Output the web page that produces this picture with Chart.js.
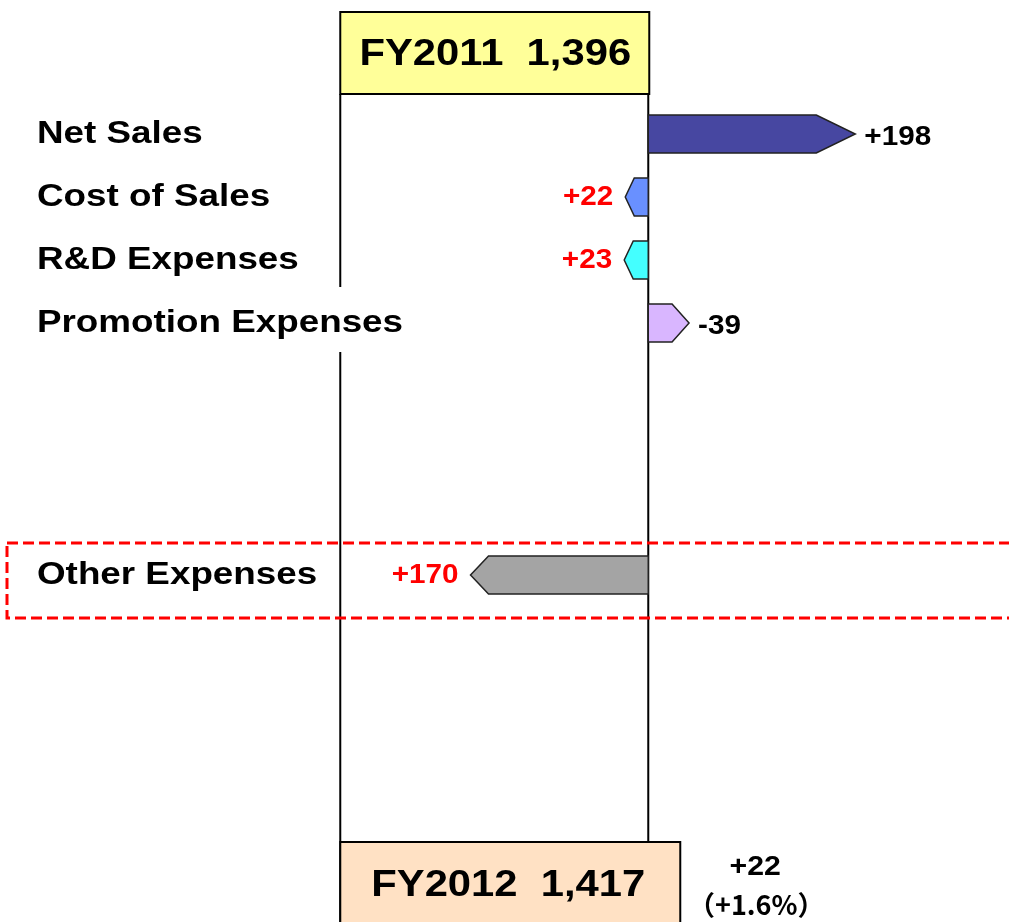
<!DOCTYPE html>
<html>
<head>
<meta charset="utf-8">
<title>Operating income FY2011 to FY2012</title>
<script src="https://cdn.jsdelivr.net/npm/chart.js"></script>
<style>
  html, body { margin: 0; padding: 0; background: #fff; }
  #wrap { width: 1009px; height: 922px; position: relative; }
</style>
</head>
<body>
<div id="wrap"><canvas id="bridge-chart"></canvas></div>
<script>
// rows (the blank ones keep the gap above Other Expenses)
let rowLabels = ['Net Sales', 'Cost of Sales', 'R&D Expenses', 'Promotion Expenses', '', '', '', 'Other Expenses'];
// effect on income: + goes right, - goes left
let impact = [198, -22, -23, 39, null, null, null, -170];
// text printed next to each arrow
let impactText = ['+198', '+22', '+23', '-39', '', '', '', '+170'];

let startText = 'FY2011  1,396';
let endText = 'FY2012  1,417';
let changeText = ['+22', '（+1.6%）'];

const arrowColors = ['#4747A1', '#6990FF', '#44FFFF', '#D9B6FF', null, null, null, '#A4A4A4'];
const arrowHeads = [39, 9, 9, 17, 0, 0, 0, 18];
const FONT = '"Liberation Sans", Arial, sans-serif';
const CJK_FONT = '"Noto Sans CJK JP", "Liberation Sans", sans-serif';

// text in the original is a bit wider than Arial, so stretch it
function wideText(ctx, text, x, y, sx) {
  ctx.save();
  ctx.translate(x, y);
  ctx.scale(sx, 1);
  ctx.fillText(text, 0, 0);
  ctx.restore();
}

const bridgeDraw = {
  id: 'bridgeDraw',
  beforeDatasetsDraw(chart) {
    const ctx = chart.ctx;
    const x0 = chart.scales.x.getPixelForValue(0);
    const colLeft = x0 - 308;
    ctx.save();
    ctx.strokeStyle = '#000';
    ctx.lineWidth = 2;
    ctx.beginPath();
    ctx.moveTo(colLeft, 94); ctx.lineTo(colLeft, 922);
    ctx.moveTo(x0, 94); ctx.lineTo(x0, 842);
    ctx.stroke();

    // FY2011 box
    ctx.fillStyle = '#FFFF99';
    ctx.fillRect(colLeft, 12, 309, 82);
    ctx.strokeRect(colLeft, 12, 309, 82);
    // FY2012 box
    ctx.fillStyle = '#FFE1C4';
    ctx.fillRect(colLeft, 842, 340, 100);
    ctx.strokeRect(colLeft, 842, 340, 100);

    ctx.fillStyle = '#000';
    ctx.textAlign = 'center';
    ctx.textBaseline = 'middle';
    ctx.font = 'bold 36px ' + FONT;
    wideText(ctx, startText, colLeft + 155, 55, 1.16);
    wideText(ctx, endText, colLeft + 168, 886, 1.16);
    ctx.font = 'bold 27px ' + FONT;
    wideText(ctx, changeText[0], colLeft + 415, 868, 1.12);
    ctx.font = 'bold 27px ' + CJK_FONT;
    wideText(ctx, changeText[1], colLeft + 416, 905, 1.0);

    // dashed highlight round Other Expenses
    ctx.strokeStyle = '#FF0000';
    ctx.lineWidth = 3;
    ctx.setLineDash([11, 5]);
    ctx.strokeRect(7, 543, 1012, 75);
    ctx.restore();
  },
  beforeDatasetDraw() {
    return false; // arrows are drawn below instead of plain bars
  },
  afterDatasetsDraw(chart) {
    const ctx = chart.ctx;
    const x0 = chart.scales.x.getPixelForValue(0);
    const colLeft = x0 - 308;
    const meta = chart.getDatasetMeta(0);
    ctx.save();
    meta.data.forEach((bar, i) => {
      if (impact[i] == null) return;
      const tip = bar.x, base = bar.base;
      const top = bar.y - bar.height / 2, bottom = bar.y + bar.height / 2;
      const dir = tip > base ? 1 : -1;
      const neck = tip - dir * Math.min(arrowHeads[i], Math.abs(tip - base));
      ctx.beginPath();
      ctx.moveTo(base, top);
      ctx.lineTo(neck, top);
      ctx.lineTo(tip, bar.y);
      ctx.lineTo(neck, bottom);
      ctx.lineTo(base, bottom);
      ctx.closePath();
      ctx.fillStyle = arrowColors[i];
      ctx.fill();
      ctx.strokeStyle = '#222';
      ctx.lineWidth = 1.5;
      ctx.stroke();

      ctx.font = 'bold 28px ' + FONT;
      ctx.textBaseline = 'middle';
      if (dir > 0) {
        ctx.fillStyle = '#000';
        ctx.textAlign = 'left';
        wideText(ctx, impactText[i], tip + 9, bar.y + 3, 1.06);
      } else {
        ctx.fillStyle = '#FF0000';
        ctx.textAlign = 'right';
        wideText(ctx, impactText[i], tip - 12, bar.y, 1.06);
      }
    });

    // row names on the left
    const yScale = chart.scales.y;
    ctx.font = 'bold 32px ' + FONT;
    ctx.textAlign = 'left';
    ctx.textBaseline = 'middle';
    rowLabels.forEach((name, i) => {
      if (!name) return;
      const y = yScale.getPixelForValue(i);
      const w = ctx.measureText(name).width * 1.15;
      if (37 + w > colLeft) {
        ctx.fillStyle = '#fff';
        ctx.fillRect(35, y - 36, w + 6, 65);
      }
      ctx.fillStyle = '#000';
      wideText(ctx, name, 37, y, 1.15);
    });
    ctx.restore();
  }
};

new Chart(document.getElementById('bridge-chart'), {
  type: 'bar',
  data: {
    labels: rowLabels,
    datasets: [{
      data: impact,
      backgroundColor: arrowColors,
      barThickness: 38
    }]
  },
  options: {
    indexAxis: 'y',
    responsive: true,
    maintainAspectRatio: false,
    animation: false,
    layout: { padding: { top: 102.5, bottom: 315.5, left: 0, right: 0 } },
    scales: {
      x: { type: 'linear', min: -620, max: 345, display: false },
      y: { display: false }
    },
    plugins: {
      legend: { display: false },
      tooltip: { enabled: false }
    }
  },
  plugins: [bridgeDraw]
});
</script>
</body>
</html>
